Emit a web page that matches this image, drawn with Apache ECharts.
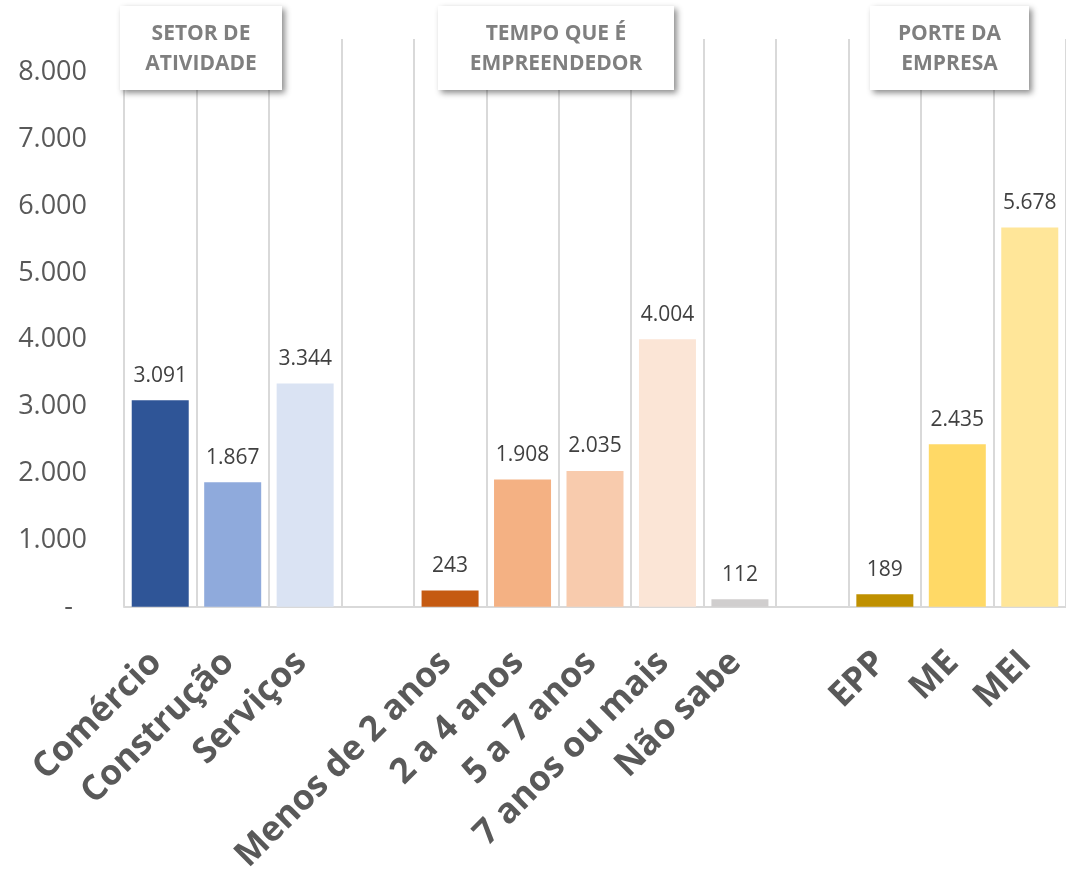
<!DOCTYPE html>
<html>
<head>
<meta charset="utf-8">
<script src="https://cdn.jsdelivr.net/npm/echarts@6/dist/echarts.min.js"></script>
<style>
  html, body { margin: 0; padding: 0; background: #fff; }
  #chart { width: 1066px; height: 876px; }
</style>
</head>
<body>
<div id="chart"></div>
<script>
// categorias (vazias = separadores entre grupos)
var categorias = ['Comércio', 'Construção', 'Serviços', '', 'Menos de 2 anos', '2 a 4 anos', '5 a 7 anos', '7 anos ou mais', 'Não sabe', '', 'EPP', 'ME', 'MEI']
var valores = [3091, 1867, 3344, null, 243, 1908, 2035, 4004, 112, null, 189, 2435, 5678]
var cores = ['#2f5597', '#8faadc', '#dae3f3', '#ffffff', '#c55a11', '#f4b183', '#f8cbad', '#fbe5d6', '#d0cece', '#ffffff', '#bf9000', '#ffd966', '#ffe699']
var grupos = [
  { nome: 'SETOR DE\nATIVIDADE', x: 120, w: 162 },
  { nome: 'TEMPO QUE É\nEMPREENDEDOR', x: 438, w: 236 },
  { nome: 'PORTE DA\nEMPRESA', x: 870, w: 159 }
]

function fmt(v) {
  return String(v).replace(/\B(?=(\d{3})+(?!\d))/g, '.')
}

var chart = echarts.init(document.getElementById('chart'))

// caixas de titulo de cada grupo
var caixas = []
grupos.forEach(function (g) {
  caixas.push({
    type: 'rect',
    z: 100,
    shape: { x: g.x, y: 6, width: g.w, height: 84 },
    style: {
      fill: '#fff',
      shadowBlur: 6,
      shadowOffsetX: 3,
      shadowOffsetY: 3,
      shadowColor: 'rgba(0,0,0,0.45)'
    }
  })
  caixas.push({
    type: 'text',
    z: 101,
    x: g.x + g.w / 2,
    y: 49,
    style: {
      text: g.nome,
      fill: '#7f7f7f',
      font: 'bold 21px "Open Sans"',
      align: 'center',
      verticalAlign: 'middle',
      lineHeight: 30
    }
  })
})

chart.setOption({
  backgroundColor: '#fff',
  animation: false,
  grid: {
    left: 124,
    right: -2,
    top: 39,
    bottom: 269
  },
  xAxis: {
    type: 'category',
    data: categorias,
    axisLine: { lineStyle: { color: '#d9d9d9', width: 2 } },
    axisTick: { show: false },
    splitLine: { show: true, interval: 0, lineStyle: { color: '#d9d9d9', width: 2 } },
    axisLabel: {
      interval: 0,
      rotate: 45,
      margin: 46,
      padding: [0, 6, 0, 0],
      color: '#595959',
      fontFamily: 'Open Sans',
      fontWeight: 'bold',
      fontSize: 35
    }
  },
  yAxis: {
    type: 'value',
    min: 0,
    max: 8500,
    interval: 1000,
    axisLine: { show: false },
    axisTick: { show: false },
    splitLine: { show: false },
    axisLabel: {
      margin: 37,
      color: '#595959',
      fontFamily: 'Open Sans',
      fontSize: 27,
      formatter: function (v) {
        if (v === 0) return '-  '
        if (v % 1000 !== 0) return ''
        return fmt(v)
      }
    }
  },
  series: [{
    type: 'bar',
    barWidth: 57,
    data: valores.map(function (v, i) {
      return { value: v, itemStyle: { color: cores[i] } }
    }),
    label: {
      show: true,
      position: 'top',
      distance: 14,
      color: '#404040',
      fontFamily: 'Open Sans',
      fontSize: 21,
      formatter: function (p) { return p.value == null ? '' : fmt(p.value) }
    }
  }],
  graphic: caixas
})

window.addEventListener('resize', function () {
  chart.resize()
})
</script>
</body>
</html>
